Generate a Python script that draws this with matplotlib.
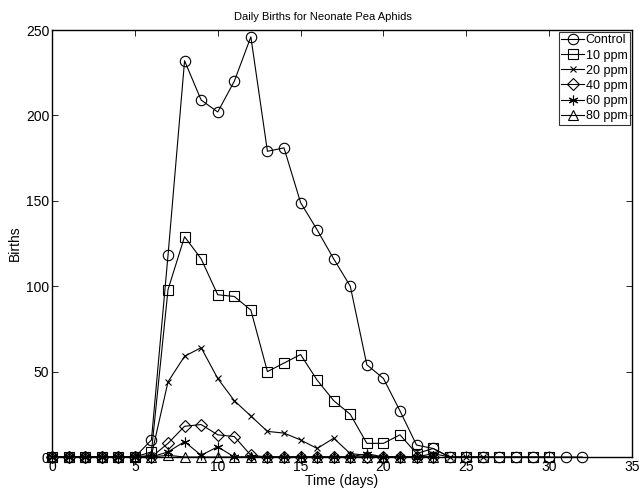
import numpy as np
import matplotlib.pyplot as plt

plt.rcParams['font.family'] = ['Liberation Sans', 'DejaVu Sans']

# Daily births per treatment, indexed from day 0
control = [0, 0, 0, 0, 0, 0, 10, 118, 232, 209, 202, 220, 246, 179, 181, 149,
           133, 116, 100, 54, 46, 27, 7, 5, 0, 0, 0, 0, 0, 0, 0, 0, 0]
ppm10 = [0, 0, 0, 0, 0, 0, 3, 98, 129, 116, 95, 94, 86, 50, 55, 60,
         45, 33, 25, 8, 8, 13, 2, 5, 0, 0, 0, 0, 0, 0, 0]
ppm20 = [0, 0, 0, 0, 0, 0, 1, 44, 59, 64, 46, 33, 24, 15, 14, 10,
         5, 11, 2, 1, 0, 0, 0, 2, 0, 0, 0]
ppm40 = [0, 0, 0, 0, 0, 0, 0, 8, 18, 19, 13, 12, 1, 0, 0, 0,
         0, 0, 0, 0, 0, 0, 0, 0]
ppm60 = [0, 0, 0, 0, 0, 0, 0, 3, 9, 1, 6, 0, 0, 0, 0, 0,
         0, 0, 0, 2, 0, 0, 0, 0]
ppm80 = [0, 0, 0, 0, 0, 0, 0, 1, 0, 0, 0, 0, 0, 0, 0, 0,
         0, 0, 0, 0, 0, 0, 0, 0]

# asterisk like the old MATLAB '*' marker
asterisk = (6, 2, 0)

series = [
    ('Control', control, 'o', 7.5),
    ('10 ppm', ppm10, 's', 6.5),
    ('20 ppm', ppm20, 'x', 5),
    ('40 ppm', ppm40, 'D', 6),
    ('60 ppm', ppm60, asterisk, 7),
    ('80 ppm', ppm80, '^', 7.5),
]

fig = plt.figure(figsize=(6.39, 4.88), dpi=100)
ax = fig.add_axes([0.0814, 0.0635, 0.9076, 0.875])

for name, vals, mk, ms in series:
    days = np.arange(len(vals))
    ax.plot(days, vals, color='black', linewidth=0.8, marker=mk,
            markersize=ms, markerfacecolor='none', markeredgecolor='black',
            markeredgewidth=0.8, label=name, clip_on=False)

ax.set_xlim(0, 35)
ax.set_ylim(0, 250)
ax.set_xticks(np.arange(0, 36, 5))
ax.set_yticks(np.arange(0, 251, 50))
ax.tick_params(direction='in', top=True, right=True, labelsize=10, length=4,
               width=0.6, pad=2)
for sp in ax.spines.values():
    sp.set_linewidth(1.0)

ax.set_title('Daily Births for Neonate Pea Aphids', fontsize=8, pad=7, x=0.467)
ax.set_xlabel('Time (days)', fontsize=10, labelpad=0)
ax.set_ylabel('Births', fontsize=10, labelpad=3)

leg = ax.legend(loc='upper right', fontsize=9, frameon=True, fancybox=False,
                edgecolor='black', handlelength=1.8, handletextpad=0.15,
                borderpad=0.2, labelspacing=0.25, borderaxespad=0.15)
leg.get_frame().set_linewidth(0.8)

fig.savefig('out.png', dpi=100)
